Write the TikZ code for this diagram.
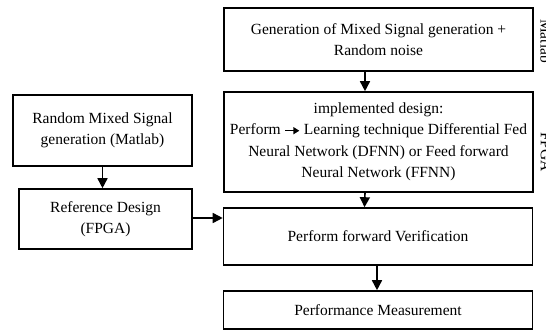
\documentclass[tikz,border=0pt]{standalone}
\usepackage{fontspec}
\setmainfont{Liberation Serif}
\usetikzlibrary{arrows.meta}
% small bold arrow used inside running text
\newcommand{\thickarrow}{\tikz[baseline=-0.6ex]\draw[line width=1.4pt,-{Triangle[length=6pt,width=7pt]}] (0,0) -- (14pt,0);}
\begin{document}
\begin{tikzpicture}[x=1pt,y=-1pt,
  blk/.style={draw,line width=1.6pt,inner sep=0pt,align=center,
    font=\fontsize{15.5}{21.5}\selectfont},
  side/.style={rotate=-90,inner sep=0pt,font=\fontsize{15.5}{18}\selectfont},
  flow/.style={line width=1.6pt,-{Triangle[length=10pt,width=10pt]}}]
\useasboundingbox (0,0) rectangle (546,331);
% right-hand column
\node[blk,minimum width=309pt,minimum height=63pt] (gen) at (378.5,39.5)
  {Generation of Mixed Signal generation +\\Random noise};
\node[blk,minimum width=309pt,minimum height=100pt] (impl) at (378.5,142)
  {implemented design:\\Perform \thickarrow{} Learning technique Differential Fed\\Neural Network (DFNN) or Feed forward\\Neural Network (FFNN)};
\node[blk,minimum width=309pt,minimum height=57pt] (verif) at (378,236.5)
  {Perform forward Verification};
\node[blk,minimum width=309pt,minimum height=38pt] (meas) at (378,310)
  {Performance Measurement};
% left-hand column
\node[blk,minimum width=179pt,minimum height=71pt] (rnd) at (102.5,130.5)
  {Random Mixed Signal\\generation (Matlab)};
\node[blk,minimum width=173pt,minimum height=60pt] (ref) at (105.5,219)
  {Reference Design\\(FPGA)};
% stage labels on the right edge
\node[side] (lmat) at (546,41) {Matlab};
\node[side] (lfpga) at (546,152) {FPGA};
% connectors
\draw[flow] ([xshift=-13.5pt]gen.south) -- ([xshift=-13.5pt]impl.north);
\draw[flow] ([xshift=-13.5pt]impl.south) -- ([xshift=-13.5pt]verif.north);
\draw[flow] ([xshift=-1pt]verif.south) -- ([xshift=-1pt]meas.north);
\draw[flow] (rnd.south) -- (rnd.south |- ref.north);
\draw[flow] ([yshift=1pt]ref.east) -- ([yshift=1pt]ref.east -| verif.west);
\end{tikzpicture}
\end{document}
